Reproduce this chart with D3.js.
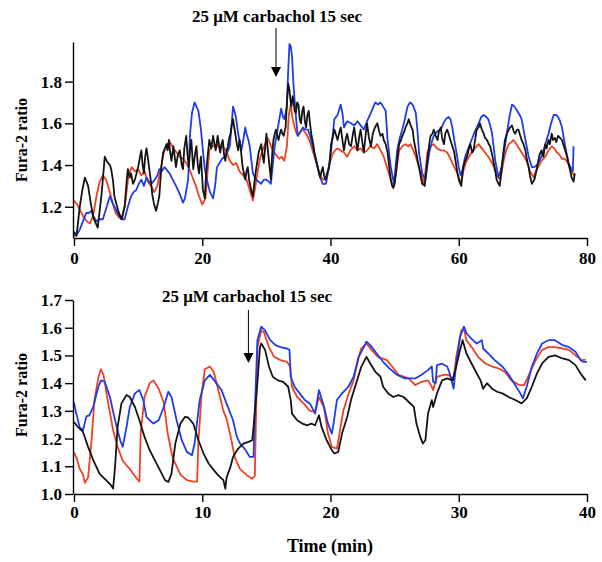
<!DOCTYPE html>
<html><head><meta charset="utf-8">
<script src="https://cdn.jsdelivr.net/npm/d3@7"></script>
<style>
body{margin:0;background:#fff;}
text{font-family:"Liberation Serif","Times New Roman",serif;font-weight:bold;fill:#000;}
</style></head>
<body><svg id="c" width="602" height="562"></svg>
<script>
// ---------- DATA ----------
const topXTicks = [0, 20, 40, 60, 80];
const topYTicks = [1.2, 1.4, 1.6, 1.8];
const botXTicks = [0, 10, 20, 30, 40];
const botYTicks = [1.0, 1.1, 1.2, 1.3, 1.4, 1.5, 1.6, 1.7];
const annotation = "25 \u03bcM carbachol 15 sec";
const topArrowTime = 31.5;
const botArrowTime = 13.6;

const topRed = [[0,1.23],[0.5,1.21],[1,1.18],[1.5,1.15],[2,1.13],[2.5,1.12],[3,1.16],[3.5,1.25],[4,1.32],[4.5,1.35],[5,1.33],[5.5,1.28],[6,1.22],[6.5,1.17],[7,1.15],[7.5,1.14],[8,1.22],[8.5,1.35],[9,1.39],[9.5,1.37],[10,1.38],[10.5,1.35],[11,1.37],[11.5,1.32],[12,1.30],[12.5,1.27],[13,1.30],[13.5,1.38],[14,1.46],[14.5,1.50],[15,1.51],[15.5,1.48],[16,1.46],[16.5,1.44],[17,1.43],[17.5,1.41],[18,1.38],[18.5,1.34],[19,1.30],[19.5,1.25],[20,1.21],[20.5,1.24],[21.1,1.47],[21.6,1.49],[22.2,1.50],[22.7,1.48],[23.2,1.49],[23.7,1.47],[24.3,1.42],[24.8,1.40],[25.3,1.41],[25.8,1.37],[26.4,1.35],[26.9,1.33],[27.4,1.28],[27.9,1.23],[28.3,1.30],[28.7,1.38],[29.0,1.43],[29.4,1.47],[29.8,1.50],[30.2,1.53],[30.6,1.50],[31,1.47],[31.5,1.45],[32,1.43],[32.4,1.44],[32.8,1.42],[33.2,1.49],[33.5,1.64],[33.8,1.69],[34.1,1.62],[34.5,1.57],[34.9,1.54],[35.3,1.56],[35.7,1.57],[36.2,1.55],[36.7,1.52],[37.2,1.47],[37.8,1.41],[38.5,1.34],[38.9,1.33],[39.3,1.34],[39.8,1.40],[40.3,1.45],[40.7,1.47],[41.1,1.48],[41.6,1.47],[42.1,1.46],[42.6,1.44],[43.1,1.47],[43.7,1.49],[44.2,1.47],[44.7,1.48],[45.2,1.46],[45.7,1.47],[46.2,1.49],[46.8,1.48],[47.3,1.50],[47.8,1.47],[48.3,1.44],[48.7,1.40],[49.1,1.36],[49.6,1.31],[49.9,1.30],[50.3,1.38],[50.7,1.47],[51.2,1.49],[51.7,1.50],[52.1,1.49],[52.5,1.50],[52.9,1.47],[53.3,1.44],[53.7,1.40],[54.1,1.36],[54.6,1.31],[55.1,1.46],[55.6,1.49],[56.1,1.50],[56.6,1.48],[57.2,1.47],[57.7,1.47],[58.2,1.46],[58.7,1.43],[59.3,1.39],[59.8,1.36],[60.3,1.31],[60.7,1.37],[61.1,1.41],[61.6,1.44],[62.0,1.46],[62.5,1.48],[63.1,1.50],[63.6,1.48],[64.1,1.46],[64.6,1.44],[65.2,1.41],[65.6,1.38],[66.0,1.35],[66.5,1.33],[67.0,1.42],[67.4,1.47],[67.8,1.50],[68.2,1.51],[68.5,1.52],[69.0,1.50],[69.6,1.47],[70.0,1.45],[70.4,1.43],[70.8,1.40],[71.1,1.37],[71.7,1.34],[72.0,1.37],[72.4,1.39],[72.9,1.42],[73.5,1.44],[74.0,1.47],[74.5,1.49],[74.9,1.48],[75.3,1.46],[75.7,1.45],[76.1,1.43],[76.5,1.43],[76.8,1.42],[77.2,1.40],[77.6,1.37],[78.0,1.35]];

const topBlue = [[0,1.06],[0.5,1.07],[0.9,1.09],[1.4,1.13],[1.9,1.17],[2.3,1.17],[2.7,1.18],[3.1,1.15],[3.5,1.13],[4.0,1.14],[4.5,1.14],[5.0,1.19],[5.6,1.25],[6.0,1.22],[6.3,1.20],[6.8,1.17],[7.4,1.14],[7.9,1.14],[8.4,1.20],[8.9,1.25],[9.3,1.27],[9.7,1.28],[10.1,1.31],[10.5,1.33],[10.9,1.30],[11.3,1.34],[11.7,1.32],[12.1,1.31],[12.6,1.33],[13.0,1.35],[13.3,1.38],[13.7,1.37],[14.1,1.39],[14.4,1.38],[14.9,1.36],[15.4,1.33],[15.9,1.30],[16.5,1.26],[17.0,1.22],[17.3,1.24],[17.8,1.33],[18.1,1.55],[18.4,1.65],[18.8,1.70],[19.1,1.68],[19.4,1.66],[19.8,1.57],[20.1,1.47],[20.4,1.38],[20.8,1.32],[21.2,1.27],[21.7,1.24],[22.0,1.30],[22.3,1.39],[22.7,1.41],[23.1,1.43],[23.5,1.44],[23.9,1.46],[24.3,1.49],[24.6,1.60],[24.8,1.68],[25.1,1.65],[25.3,1.62],[25.6,1.55],[25.8,1.52],[26.1,1.47],[26.4,1.52],[26.7,1.58],[26.9,1.55],[27.2,1.52],[27.4,1.49],[27.9,1.36],[28.4,1.33],[28.8,1.32],[29.2,1.31],[29.6,1.33],[30.0,1.33],[30.4,1.32],[30.7,1.31],[31.0,1.40],[31.3,1.49],[31.8,1.58],[32.3,1.67],[32.6,1.63],[32.8,1.62],[33.2,1.68],[33.4,1.85],[33.6,1.98],[33.8,1.97],[34.0,1.92],[34.2,1.80],[34.4,1.71],[34.7,1.60],[34.9,1.54],[35.3,1.56],[35.7,1.58],[36.1,1.57],[36.5,1.57],[36.9,1.53],[37.2,1.49],[37.6,1.44],[38.0,1.39],[38.4,1.34],[38.8,1.31],[39.3,1.31],[39.7,1.38],[40.1,1.47],[40.6,1.62],[41.1,1.64],[41.6,1.69],[41.9,1.64],[42.1,1.58],[42.6,1.61],[43.2,1.60],[43.7,1.59],[44.2,1.61],[44.7,1.59],[45.2,1.57],[45.7,1.61],[46.3,1.65],[46.7,1.68],[47.0,1.70],[47.4,1.69],[47.8,1.70],[48.2,1.68],[48.6,1.66],[48.9,1.52],[49.4,1.39],[49.9,1.31],[50.4,1.47],[50.8,1.53],[51.2,1.57],[51.6,1.62],[52.0,1.68],[52.4,1.70],[52.8,1.69],[53.3,1.65],[53.6,1.55],[53.8,1.46],[54.3,1.36],[54.8,1.33],[55.4,1.46],[55.8,1.51],[56.1,1.54],[56.6,1.56],[57.2,1.57],[57.6,1.60],[58.0,1.62],[58.4,1.63],[58.7,1.62],[59.0,1.58],[59.3,1.52],[59.7,1.45],[60.0,1.39],[60.3,1.35],[60.6,1.38],[61.0,1.44],[61.5,1.48],[62.0,1.52],[62.5,1.56],[63.1,1.60],[63.5,1.63],[63.9,1.64],[64.3,1.63],[64.6,1.62],[64.9,1.59],[65.2,1.55],[65.7,1.42],[66.2,1.34],[66.7,1.39],[67.1,1.47],[67.5,1.55],[67.9,1.63],[68.3,1.69],[68.7,1.68],[69.1,1.66],[69.5,1.64],[69.8,1.62],[70.1,1.57],[70.4,1.52],[70.9,1.44],[71.4,1.39],[71.8,1.39],[72.2,1.40],[72.6,1.42],[72.9,1.44],[73.5,1.50],[74.0,1.55],[74.4,1.60],[74.8,1.64],[75.2,1.64],[75.5,1.63],[75.8,1.61],[76.1,1.58],[76.6,1.49],[77.1,1.41],[77.6,1.38],[77.8,1.37],[77.9,1.49]];

const topBlack = [[0,1.08],[0.4,1.06],[0.9,1.20],[1.3,1.28],[1.7,1.34],[2.2,1.30],[2.6,1.22],[3.0,1.15],[3.4,1.12],[3.7,1.10],[4.0,1.18],[4.3,1.26],[4.8,1.44],[5.1,1.42],[5.3,1.41],[5.6,1.40],[5.8,1.38],[6.1,1.32],[6.3,1.25],[6.9,1.18],[7.4,1.14],[7.9,1.20],[8.2,1.32],[8.4,1.38],[8.7,1.34],[8.9,1.36],[9.2,1.31],[9.5,1.33],[10.0,1.39],[10.3,1.44],[10.5,1.47],[10.7,1.40],[10.9,1.36],[11.1,1.44],[11.3,1.48],[11.5,1.44],[11.7,1.39],[12.0,1.32],[12.2,1.26],[12.5,1.21],[12.8,1.18],[13.1,1.22],[13.3,1.25],[13.6,1.38],[13.9,1.46],[14.2,1.48],[14.4,1.50],[14.6,1.47],[14.8,1.52],[15.0,1.46],[15.2,1.42],[15.5,1.49],[15.7,1.44],[15.9,1.39],[16.2,1.45],[16.5,1.47],[16.8,1.40],[17.0,1.38],[17.2,1.48],[17.5,1.54],[17.7,1.45],[17.9,1.39],[18.1,1.47],[18.3,1.52],[18.5,1.42],[18.6,1.38],[18.9,1.46],[19.1,1.49],[19.3,1.40],[19.5,1.36],[19.7,1.42],[19.8,1.44],[20.1,1.28],[20.4,1.24],[20.6,1.36],[20.9,1.46],[21.1,1.52],[21.4,1.48],[21.7,1.54],[21.9,1.50],[22.1,1.47],[22.4,1.54],[22.6,1.50],[22.8,1.46],[23.0,1.50],[23.2,1.52],[23.4,1.45],[23.6,1.42],[23.8,1.47],[24.0,1.49],[24.2,1.53],[24.4,1.55],[24.6,1.59],[24.8,1.62],[25.0,1.58],[25.2,1.54],[25.4,1.50],[25.6,1.47],[25.8,1.52],[26.0,1.48],[26.3,1.39],[26.5,1.36],[26.7,1.33],[26.9,1.37],[27.1,1.39],[27.3,1.33],[27.5,1.30],[27.7,1.27],[27.9,1.25],[28.1,1.31],[28.3,1.36],[28.6,1.42],[28.8,1.46],[29.0,1.48],[29.2,1.50],[29.4,1.45],[29.6,1.41],[29.8,1.48],[30.0,1.55],[30.2,1.48],[30.4,1.42],[30.6,1.36],[30.7,1.33],[30.9,1.45],[31.1,1.52],[31.3,1.55],[31.5,1.57],[31.7,1.54],[31.9,1.52],[32.1,1.55],[32.3,1.57],[32.5,1.55],[32.7,1.54],[32.9,1.57],[33.0,1.58],[33.2,1.70],[33.4,1.79],[33.6,1.76],[33.8,1.70],[33.9,1.68],[34.1,1.73],[34.2,1.72],[34.4,1.66],[34.6,1.65],[34.8,1.70],[35.0,1.69],[35.2,1.62],[35.4,1.60],[35.6,1.66],[35.8,1.68],[36.0,1.61],[36.2,1.58],[36.4,1.64],[36.6,1.66],[36.8,1.60],[37.0,1.55],[37.3,1.50],[37.5,1.46],[37.8,1.42],[38.0,1.39],[38.2,1.36],[38.4,1.34],[38.6,1.37],[38.8,1.39],[39.0,1.35],[39.2,1.33],[39.5,1.36],[39.8,1.39],[40.1,1.50],[40.4,1.54],[40.6,1.57],[40.9,1.54],[41.1,1.52],[41.4,1.56],[41.6,1.58],[41.9,1.51],[42.1,1.47],[42.4,1.53],[42.6,1.55],[42.9,1.50],[43.2,1.49],[43.5,1.55],[43.7,1.58],[44.0,1.51],[44.2,1.47],[44.5,1.54],[44.7,1.57],[45.0,1.50],[45.2,1.46],[45.5,1.55],[45.7,1.60],[46.0,1.53],[46.3,1.49],[46.6,1.55],[46.8,1.57],[47.1,1.59],[47.3,1.60],[47.6,1.56],[47.8,1.54],[48.1,1.55],[48.3,1.52],[48.6,1.50],[48.9,1.46],[49.2,1.38],[49.4,1.33],[49.6,1.30],[49.8,1.29],[50.0,1.31],[50.2,1.36],[50.5,1.45],[50.7,1.50],[51.0,1.52],[51.2,1.54],[51.5,1.56],[51.7,1.58],[52.0,1.60],[52.2,1.62],[52.5,1.59],[52.8,1.57],[53.0,1.52],[53.3,1.47],[53.6,1.42],[53.8,1.39],[54.1,1.34],[54.3,1.31],[54.7,1.30],[54.9,1.36],[55.1,1.42],[55.4,1.50],[55.6,1.54],[55.9,1.55],[56.1,1.57],[56.4,1.54],[56.7,1.52],[56.9,1.56],[57.2,1.58],[57.4,1.53],[57.7,1.50],[57.9,1.55],[58.2,1.57],[58.5,1.54],[58.7,1.52],[59.0,1.49],[59.3,1.46],[59.5,1.42],[59.8,1.36],[60.1,1.32],[60.4,1.30],[60.7,1.39],[61.0,1.42],[61.3,1.44],[61.6,1.48],[61.8,1.50],[62.1,1.46],[62.3,1.47],[62.6,1.53],[62.8,1.57],[63.1,1.58],[63.3,1.60],[63.6,1.57],[63.9,1.55],[64.1,1.53],[64.4,1.52],[64.7,1.50],[64.9,1.49],[65.2,1.45],[65.4,1.42],[65.7,1.37],[65.9,1.33],[66.2,1.31],[66.4,1.30],[66.7,1.39],[67.0,1.47],[67.2,1.52],[67.5,1.55],[67.8,1.57],[68.0,1.58],[68.3,1.59],[68.6,1.56],[68.8,1.55],[69.1,1.57],[69.3,1.57],[69.6,1.54],[69.8,1.52],[70.1,1.50],[70.4,1.47],[70.6,1.43],[70.9,1.39],[71.1,1.35],[71.4,1.31],[71.6,1.32],[71.8,1.33],[72.1,1.37],[72.4,1.42],[72.6,1.45],[72.9,1.47],[73.2,1.44],[73.5,1.50],[73.7,1.48],[74.0,1.52],[74.2,1.50],[74.5,1.55],[74.7,1.52],[75.0,1.53],[75.2,1.51],[75.5,1.54],[75.8,1.53],[76.1,1.52],[76.3,1.50],[76.6,1.47],[76.9,1.44],[77.1,1.41],[77.4,1.37],[77.6,1.34],[77.9,1.32],[78.1,1.36]];

const botRed = [[0,1.15],[0.2,1.13],[0.45,1.09],[0.7,1.07],[0.84,1.04],[1.1,1.06],[1.36,1.19],[1.6,1.34],[1.9,1.42],[2.1,1.45],[2.3,1.43],[2.66,1.33],[3.05,1.23],[3.4,1.17],[3.8,1.12],[4.35,1.09],[4.9,1.055],[5.1,1.045],[5.2,1.22],[5.5,1.35],[5.9,1.40],[6.2,1.41],[6.6,1.38],[7.0,1.33],[7.3,1.22],[7.7,1.13],[8.3,1.07],[8.8,1.05],[9.3,1.045],[9.6,1.045],[9.7,1.19],[9.95,1.36],[10.2,1.45],[10.6,1.46],[10.9,1.44],[11.25,1.375],[11.65,1.30],[11.9,1.27],[12.2,1.21],[12.55,1.13],[12.95,1.09],[13.5,1.067],[13.9,1.055],[14.1,1.065],[14.2,1.30],[14.3,1.53],[14.6,1.59],[14.8,1.585],[15.2,1.53],[15.6,1.495],[16.1,1.483],[16.6,1.477],[16.85,1.46],[17.0,1.387],[17.4,1.35],[17.9,1.327],[18.4,1.30],[18.8,1.296],[19.1,1.35],[19.5,1.31],[19.8,1.22],[20.1,1.17],[20.5,1.164],[20.7,1.218],[21,1.30],[21.4,1.36],[21.8,1.41],[22.2,1.495],[22.4,1.525],[22.8,1.543],[23.2,1.52],[23.7,1.495],[24.4,1.483],[24.8,1.46],[25.3,1.43],[26.1,1.417],[26.6,1.393],[27.1,1.405],[27.6,1.41],[27.9,1.387],[28.0,1.375],[28.3,1.423],[28.8,1.43],[29.2,1.43],[29.6,1.41],[29.8,1.495],[30.2,1.59],[30.4,1.597],[30.6,1.555],[31.0,1.53],[31.5,1.495],[32.1,1.47],[32.6,1.46],[33.1,1.453],[33.6,1.44],[34.1,1.41],[34.7,1.393],[35.1,1.393],[35.4,1.423],[36,1.483],[36.5,1.52],[37,1.53],[37.5,1.53],[38.1,1.525],[38.6,1.52],[39.1,1.50],[39.6,1.483],[39.9,1.485]];

const botBlue = [[0,1.33],[0.13,1.30],[0.45,1.24],[0.7,1.23],[0.97,1.28],[1.2,1.284],[1.5,1.314],[1.9,1.387],[2.1,1.41],[2.4,1.405],[2.8,1.35],[3.2,1.266],[3.6,1.194],[3.8,1.17],[4.1,1.242],[4.35,1.314],[4.75,1.363],[5.1,1.375],[5.4,1.339],[5.65,1.278],[5.9,1.266],[6.2,1.254],[6.6,1.266],[7.0,1.314],[7.35,1.369],[7.6,1.35],[8.0,1.266],[8.4,1.194],[8.8,1.152],[9.2,1.14],[9.4,1.182],[9.8,1.339],[10.2,1.41],[10.6,1.43],[11.1,1.40],[11.5,1.375],[11.9,1.326],[12.2,1.29],[12.4,1.266],[12.7,1.206],[12.95,1.182],[13.3,1.164],[13.7,1.134],[14.0,1.134],[14.1,1.30],[14.3,1.555],[14.6,1.604],[14.9,1.59],[15.3,1.555],[15.7,1.537],[16.1,1.53],[16.6,1.525],[16.8,1.52],[16.9,1.423],[17.2,1.387],[17.6,1.363],[18.0,1.339],[18.4,1.326],[18.8,1.29],[19.1,1.375],[19.5,1.314],[19.8,1.254],[20.1,1.218],[20.2,1.242],[20.5,1.339],[20.9,1.363],[21.4,1.387],[21.8,1.423],[22.2,1.495],[22.6,1.53],[22.8,1.55],[23.1,1.537],[23.6,1.507],[24.1,1.477],[24.6,1.453],[25.2,1.43],[25.8,1.417],[26.6,1.417],[27.1,1.43],[27.6,1.447],[27.9,1.46],[28.0,1.405],[28.2,1.40],[28.3,1.465],[28.7,1.47],[29.1,1.46],[29.3,1.435],[29.6,1.38],[29.8,1.47],[30.1,1.567],[30.4,1.604],[30.6,1.58],[31.0,1.56],[31.4,1.543],[31.8,1.555],[31.9,1.525],[32.3,1.507],[32.8,1.483],[33.4,1.46],[33.9,1.43],[34.4,1.393],[34.8,1.363],[35.0,1.345],[35.3,1.387],[35.7,1.46],[36.1,1.507],[36.5,1.543],[37.0,1.555],[37.5,1.555],[38.1,1.537],[38.6,1.53],[39.1,1.513],[39.5,1.483],[39.7,1.477],[40.0,1.477]];

const botBlack = [[0,1.26],[0.3,1.242],[0.7,1.224],[1.1,1.17],[1.5,1.122],[2.0,1.073],[2.5,1.05],[2.9,1.031],[3.05,1.02],[3.2,1.098],[3.4,1.242],[3.7,1.327],[4.1,1.357],[4.35,1.35],[4.75,1.314],[5.1,1.266],[5.5,1.206],[5.9,1.158],[6.3,1.122],[6.7,1.086],[7.1,1.05],[7.35,1.043],[7.6,1.073],[7.9,1.182],[8.3,1.254],[8.65,1.278],[8.9,1.276],[9.3,1.254],[9.7,1.194],[10.1,1.146],[10.5,1.11],[10.9,1.086],[11.25,1.067],[11.65,1.05],[11.8,1.019],[11.9,1.06],[12.2,1.098],[12.4,1.134],[12.8,1.164],[13.2,1.182],[13.6,1.188],[13.9,1.194],[14.0,1.242],[14.3,1.40],[14.5,1.53],[14.6,1.543],[14.9,1.52],[15.2,1.46],[15.5,1.423],[15.9,1.41],[16.3,1.405],[16.7,1.387],[16.9,1.339],[17.0,1.29],[17.4,1.266],[17.8,1.254],[18.2,1.248],[18.5,1.254],[18.8,1.248],[19.1,1.284],[19.3,1.242],[19.7,1.194],[20.1,1.158],[20.3,1.146],[20.6,1.152],[20.9,1.218],[21.3,1.278],[21.6,1.339],[22.0,1.40],[22.4,1.459],[22.8,1.495],[23.1,1.471],[23.5,1.441],[23.9,1.423],[24.1,1.387],[24.5,1.363],[24.9,1.35],[25.3,1.357],[25.7,1.35],[26.1,1.332],[26.5,1.314],[26.7,1.254],[27.0,1.206],[27.2,1.182],[27.4,1.194],[27.6,1.29],[27.9,1.339],[28.0,1.314],[28.3,1.363],[28.7,1.41],[29.1,1.417],[29.5,1.41],[29.8,1.459],[30.1,1.52],[30.3,1.555],[30.6,1.507],[31.0,1.471],[31.4,1.435],[31.7,1.41],[31.9,1.38],[32.2,1.40],[32.6,1.38],[33.0,1.369],[33.4,1.363],[33.9,1.35],[34.4,1.339],[34.9,1.327],[35.3,1.345],[35.7,1.387],[36.1,1.435],[36.5,1.471],[37.0,1.495],[37.5,1.50],[38.1,1.489],[38.6,1.483],[39.1,1.465],[39.5,1.435],[39.9,1.41]];

// ---------- DRAW ----------
const svg = d3.select("#c");
const RED = "#ec4322", BLUE = "#1f3ee6", BLACK = "#141414";

function panel(cfg) {
  const x = d3.scaleLinear().domain(cfg.xDomain).range([74, 587]);
  const y = d3.scaleLinear().domain(cfg.yDomain).range(cfg.yRange);
  const g = svg.append("g");
  const line = d3.line().x(d => x(d[0])).y(d => y(d[1]));
  [[cfg.red, RED], [cfg.blue, BLUE], [cfg.black, BLACK]].forEach(([data, col]) => {
    g.append("path").datum(data).attr("d", line)
      .attr("fill", "none").attr("stroke", col).attr("stroke-width", cfg.lw)
      .attr("stroke-linejoin", "round");
  });
  const xAxis = g.append("g").attr("transform", `translate(0,${cfg.yRange[0]})`)
    .call(d3.axisBottom(x).tickValues(cfg.xTicks).tickSize(8).tickSizeOuter(0).tickPadding(cfg.xPad).tickFormat(d3.format("d")));
  const yAxis = g.append("g").attr("transform", `translate(73,0)`)
    .call(d3.axisLeft(y).tickValues(cfg.yTicks).tickSize(8).tickSizeOuter(0).tickPadding(3).tickFormat(d3.format(".1f")));
  [xAxis, yAxis].forEach(a => {
    a.selectAll("path,line").attr("stroke", "#000").attr("stroke-width", 1.4);
    a.selectAll("text").attr("font-size", 17).attr("font-family", '"Liberation Serif",serif').attr("font-weight", "bold").attr("fill", "#000");
  });
  g.append("text").attr("transform", `translate(${cfg.ylabX},${cfg.ylabY}) rotate(-90)`)
    .attr("text-anchor", "middle").attr("font-size", 16).text("Fura-2 ratio");
  g.append("text").attr("x", cfg.annX).attr("y", cfg.annY).attr("text-anchor", "middle")
    .attr("font-size", 17).text(annotation);
  const ax = x(cfg.arrowT);
  g.append("line").attr("x1", ax).attr("x2", ax).attr("y1", cfg.arrowTop).attr("y2", cfg.arrowTip - 8)
    .attr("stroke", "#000").attr("stroke-width", 1);
  g.append("path").attr("d", `M${ax - 5},${cfg.arrowTip - 10}L${ax + 5},${cfg.arrowTip - 10}L${ax},${cfg.arrowTip}Z`).attr("fill", "#000");
  return {x, y};
}

panel({xDomain:[0,80], yDomain:[1.05,1.99], yRange:[238,42], red:topRed, blue:topBlue, black:topBlack,
  xTicks:topXTicks, yTicks:topYTicks, xPad:6, lw:1.8, ylabX:27, ylabY:140, annX:277, annY:22,
  arrowT:topArrowTime, arrowTop:28, arrowTip:77});
panel({xDomain:[0,40], yDomain:[1.0,1.7], yRange:[494,300], red:botRed, blue:botBlue, black:botBlack,
  xTicks:botXTicks, yTicks:botYTicks, xPad:4, lw:1.8, ylabX:27, ylabY:395, annX:247, annY:302,
  arrowT:botArrowTime, arrowTop:310, arrowTip:363});
svg.append("text").attr("x", 330).attr("y", 552).attr("text-anchor", "middle").attr("font-size", 18).text("Time (min)");
</script></body></html>
